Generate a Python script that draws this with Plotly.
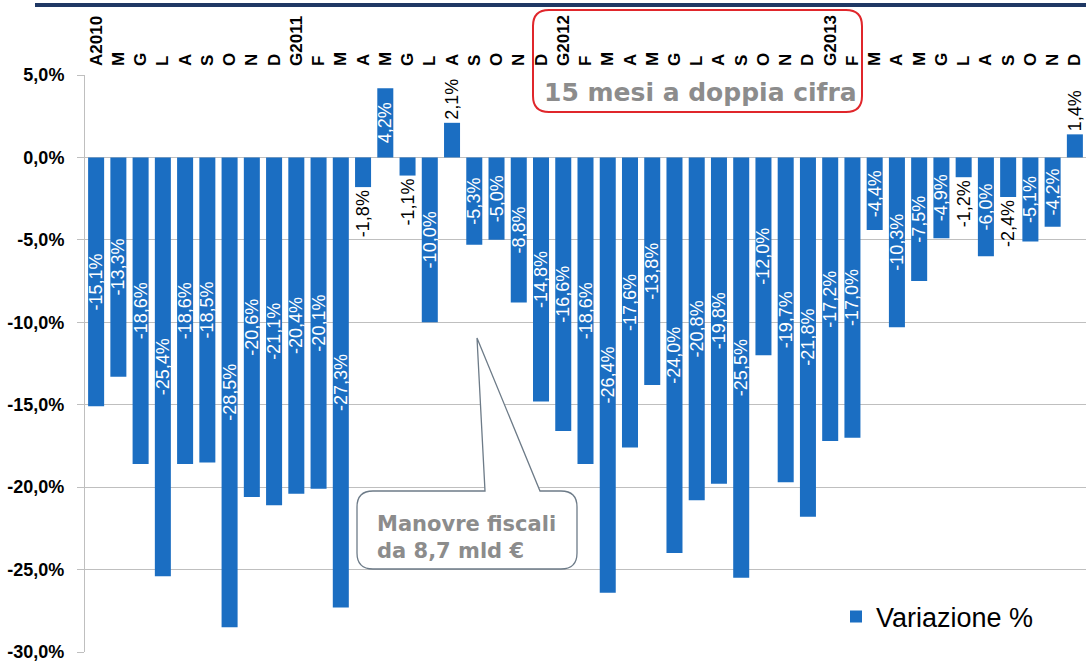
import plotly.graph_objects as go

# Monthly labels (April 2010 - December 2013)
months = ["A2010", "M", "G", "L", "A", "S", "O", "N", "D",
          "G2011", "F", "M", "A", "M", "G", "L", "A", "S", "O", "N", "D",
          "G2012", "F", "M", "A", "M", "G", "L", "A", "S", "O", "N", "D",
          "G2013", "F", "M", "A", "M", "G", "L", "A", "S", "O", "N", "D"]

# Year-on-year change, %
variazione = [-15.1, -13.3, -18.6, -25.4, -18.6, -18.5, -28.5, -20.6, -21.1,
              -20.4, -20.1, -27.3, -1.8, 4.2, -1.1, -10.0, 2.1, -5.3, -5.0, -8.8, -14.8,
              -16.6, -18.6, -26.4, -17.6, -13.8, -24.0, -20.8, -19.8, -25.5, -12.0, -19.7, -21.8,
              -17.2, -17.0, -4.4, -10.3, -7.5, -4.9, -1.2, -6.0, -2.4, -5.1, -4.2, 1.4]

y_ticks = [5, 0, -5, -10, -15, -20, -25, -30]
y_tick_text = ["5,0%", "0,0%", "-5,0%", "-10,0%", "-15,0%", "-20,0%", "-25,0%", "-30,0%"]

FIG_W, FIG_H = 1086, 664
L, T, R, B = 85, 75, 0, 12
PW, PH = FIG_W - L - R, FIG_H - T - B

BLUE = "#1b6ec2"
GRID = "#bfbfbf"
SANS = "Liberation Sans, Arial, sans-serif"
VERD = "DejaVu Sans, Verdana, sans-serif"


def px(x):
    return (x - L) / PW


def py(y):
    return (T + PH - y) / PH


def pt(x, y):
    return f"{px(x):.5f},{py(y):.5f}"


def rounded_rect(x0, y0, x1, y1, r):
    return (f"M {pt(x0 + r, y0)} L {pt(x1 - r, y0)} Q {pt(x1, y0)} {pt(x1, y0 + r)} "
            f"L {pt(x1, y1 - r)} Q {pt(x1, y1)} {pt(x1 - r, y1)} "
            f"L {pt(x0 + r, y1)} Q {pt(x0, y1)} {pt(x0, y1 - r)} "
            f"L {pt(x0, y0 + r)} Q {pt(x0, y0)} {pt(x0 + r, y0)} Z")


def callout(x0, y0, x1, y1, r, bx0, bx1, tx, ty):
    return (f"M {pt(bx0, y0)} L {pt(tx, ty)} L {pt(bx1, y0)} "
            f"L {pt(x1 - r, y0)} Q {pt(x1, y0)} {pt(x1, y0 + r)} "
            f"L {pt(x1, y1 - r)} Q {pt(x1, y1)} {pt(x1 - r, y1)} "
            f"L {pt(x0 + r, y1)} Q {pt(x0, y1)} {pt(x0, y1 - r)} "
            f"L {pt(x0, y0 + r)} Q {pt(x0, y0)} {pt(x0 + r, y0)} Z")


xs = list(range(len(months)))
positions = ["outside" if abs(v) < 3 else "inside" for v in variazione]

fig = go.Figure()
fig.add_trace(go.Bar(
    x=xs, y=variazione, name="Variazione %",
    marker=dict(color=BLUE, line=dict(width=0)),
    width=0.72,
    texttemplate="%{y:.1f}%",
    textposition=positions,
    textangle=-90,
    insidetextanchor="middle",
    constraintext="none",
    cliponaxis=False,
    insidetextfont=dict(family=SANS, size=18, color="white"),
    outsidetextfont=dict(family=SANS, size=18, color="black"),
))

fig.update_layout(
    width=FIG_W, height=FIG_H,
    margin=dict(l=L, r=R, t=T, b=B),
    paper_bgcolor="white", plot_bgcolor="white",
    separators=",.",
    showlegend=True,
    legend=dict(x=px(836), y=py(617), xanchor="left", yanchor="middle",
                font=dict(family=SANS, size=27, color="black"),
                bgcolor="rgba(0,0,0,0)"),
    xaxis=dict(
        side="top", tickmode="array", tickvals=xs, ticktext=months,
        tickangle=-90, range=[-0.5, len(months) - 0.5],
        showgrid=False, zeroline=False, showline=False, ticks="",
        tickfont=dict(family=SANS, size=17, color="black", weight="bold"),
        ticklabelstandoff=8,
    ),
    yaxis=dict(
        range=[-30, 5], tickmode="array", tickvals=y_ticks, ticktext=y_tick_text,
        showgrid=True, gridcolor=GRID, gridwidth=1,
        zeroline=True, zerolinecolor=GRID, zerolinewidth=1,
        showline=True, linecolor=GRID, linewidth=1,
        ticks="outside", ticklen=7, tickcolor=GRID,
        tickfont=dict(family=SANS, size=18, color="black", weight="bold"),
        ticklabelstandoff=9,
    ),
)

shapes = [
    # header rule
    dict(type="line", xref="paper", yref="paper", x0=px(35), x1=px(1090),
         y0=py(5), y1=py(5), line=dict(color="#1f3864", width=4)),
    # highlighted period
    dict(type="path", xref="paper", yref="paper",
         path=rounded_rect(533, 10, 862, 112, 16),
         line=dict(color="#e0262b", width=2), fillcolor="rgba(0,0,0,0)"),
    # callout
    dict(type="path", xref="paper", yref="paper",
         path=callout(357, 491, 577, 569, 16, 485, 540, 477, 338),
         line=dict(color="#6d7b88", width=1.3), fillcolor="white"),
]
fig.update_layout(shapes=shapes)

fig.add_annotation(xref="paper", yref="paper", x=px(700), y=py(93),
                   text="<b>15 mesi a doppia cifra</b>", showarrow=False,
                   xanchor="center", yanchor="middle",
                   font=dict(family=VERD, size=25, color="#8c8c8c"))
fig.add_annotation(xref="paper", yref="paper", x=px(375), y=py(537),
                   text="<b>Manovre fiscali<br>da 8,7 mld €</b>", showarrow=False,
                   xanchor="left", yanchor="middle", align="left",
                   font=dict(family=VERD, size=21, color="#8c8c8c"))

fig.write_html("out.html")
